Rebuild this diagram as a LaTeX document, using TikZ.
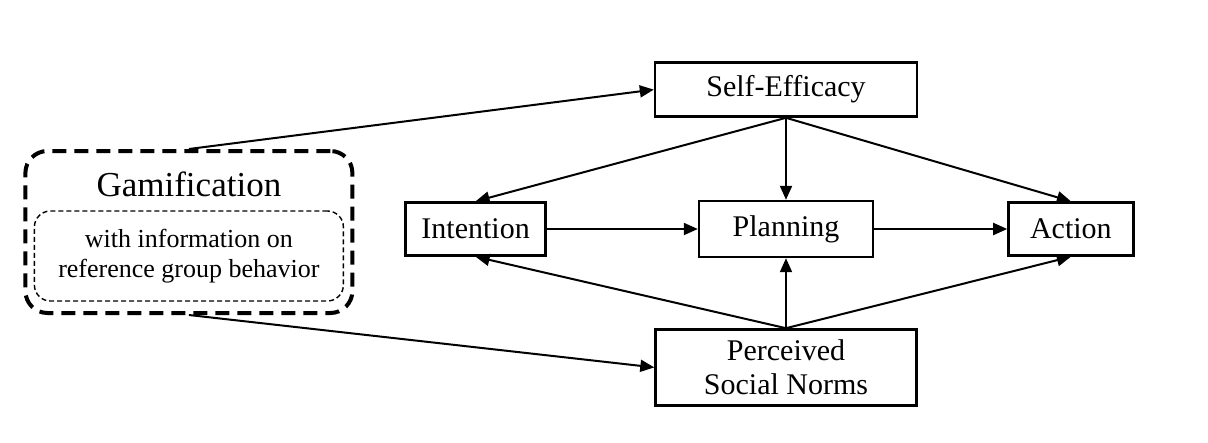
\documentclass[tikz,border=0pt]{standalone}
\usepackage{fontspec}
\setmainfont{Liberation Serif}
\usetikzlibrary{positioning,arrows.meta}
\tikzset{>={Triangle[length=14pt,width=12pt]}}

\begin{document}
\begin{tikzpicture}[x=1pt,y=-1pt,
squarednode/.style={rectangle, align=center, draw=black, line width=2.4pt, inner sep=0pt, font=\fontsize{30}{34}\selectfont},
gamibox/.style={rectangle, rounded corners=22pt, draw=black, line width=4pt, dash pattern=on 14pt off 8pt, minimum width=327pt, minimum height=162pt, inner sep=0pt},
infobox/.style={rectangle, rounded corners=16pt, align=center, draw=black, line width=1.4pt, dash pattern=on 5pt off 3pt, minimum width=309pt, minimum height=90pt, inner sep=0pt, font=\fontsize{26}{30}\selectfont},
link/.style={->, line width=2pt},
]
\useasboundingbox (0,0) rectangle (1208,442);

%Nodes
\node[squarednode, minimum width=174pt, minimum height=56pt](Planning) at (786,229){Planning};
\node[squarednode, minimum width=262pt, minimum height=54pt](Self-Efficacy)[above=82pt of Planning]{Self-Efficacy};
\node[squarednode, minimum width=261pt, minimum height=76pt](Social Norms)[below=70pt of Planning]{Perceived\\Social Norms};
\node[squarednode, minimum width=140pt, minimum height=53pt](Intention)[left=151pt of Planning]{Intention};
\node[squarednode, minimum width=125pt, minimum height=53pt](Action)[right=133pt of Planning]{Action};
\node[gamibox](Gamification)[left=50pt of Intention, yshift=-3pt]{};
\node[font=\fontsize{35}{40}\selectfont](Gamification Title) at ([yshift=48pt]Gamification.center){Gamification};
\node[infobox](Reference Group) at ([yshift=-24pt]Gamification.center){with information on\\reference group behavior};

%Lines
\draw[link] (Gamification.north) -- (Self-Efficacy.west);
\draw[link] (Gamification.south) -- (Social Norms.west);
\draw[link] (Self-Efficacy.south) -- (Intention.north);
\draw[link] (Self-Efficacy.south) -- (Planning.north);
\draw[link] (Self-Efficacy.south) -- (Action.north);
\draw[link] (Intention) -- (Planning);
\draw[link] (Planning) -- (Action);
\draw[link] (Social Norms.north) -- (Intention.south);
\draw[link] (Social Norms.north) -- (Planning.south);
\draw[link] (Social Norms.north) -- (Action.south);
\end{tikzpicture}
\end{document}
